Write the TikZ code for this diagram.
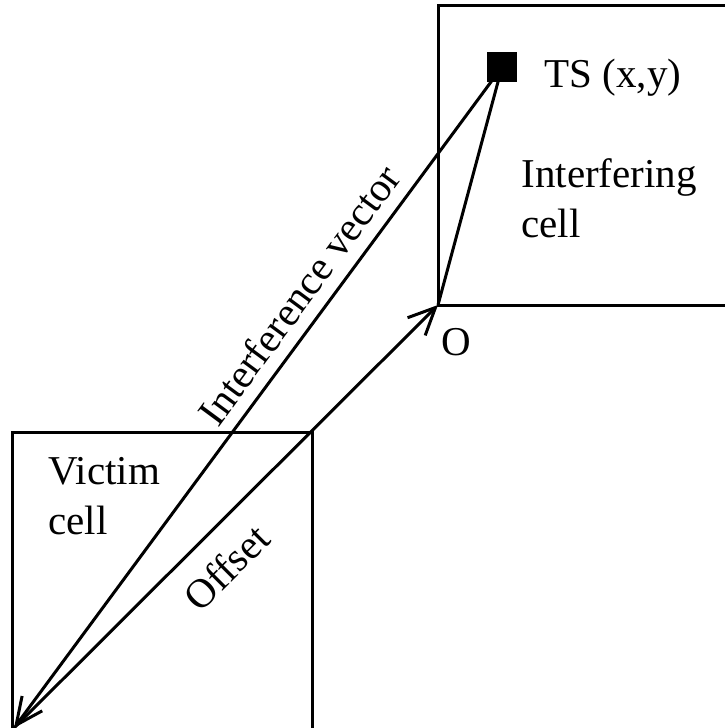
\documentclass[tikz,border=0pt]{standalone}
\usepackage{fontspec}
\setmainfont{Liberation Serif}
\usetikzlibrary{positioning}
\usetikzlibrary{calc,arrows.meta}

\begin{document}
\begin{tikzpicture}[x=1pt,y=-1pt,>={Straight Barb[length=27pt,width=25pt]},
  line width=3pt,font=\fontsize{41}{50}\selectfont,
  txt/.style={inner sep=0pt,align=left}]
\useasboundingbox (0,0) rectangle (724,728);
% the two cells
\draw (12,432) rectangle (312,732);
\draw (438,5) rectangle (738,305);
\coordinate (V) at (14,728);
\coordinate (O) at (438,305);
\node[fill,minimum size=30pt,inner sep=0pt] (TS) at (502,67) {};
\node[txt,anchor=base west] (TSlab) at (543,87) {TS (x,y)};
\node[txt,anchor=north west] (Icell) at (520,157) {Interfering\\cell};
\node[txt,anchor=north west] (Vcell) at (47,456) {Victim\\cell};
\node[txt,anchor=base west] (Olab) at (440,355) {O};
\draw[->] (TS.center) -- node[pos=.37,sloped,above=10pt,inner sep=2pt] {Interference vector} (V);
\draw[->] (V) -- node[pos=.44,sloped,below=18pt,inner sep=2pt] {Offset} (O);
\draw (TS.center) -- (O);
\end{tikzpicture}
\end{document}
